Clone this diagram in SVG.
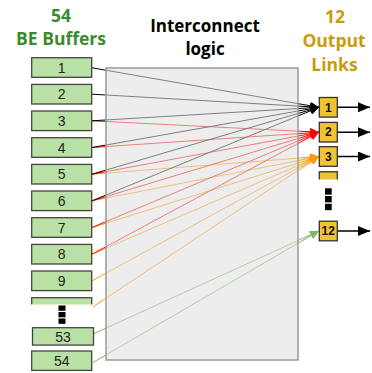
<svg xmlns="http://www.w3.org/2000/svg" width="372" height="373" viewBox="0 0 372 373">
<style>
.title{font-family:"Open Sans","Noto Sans",sans-serif;font-weight:700;font-size:17.5px;text-anchor:middle}
.mid{font-size:17px}
.buf rect{fill:#b9e0a5;stroke:#444;stroke-width:1.3}
.buf text{font-family:"Liberation Sans",Arial,sans-serif;font-size:14px;fill:#222;text-anchor:middle}
.out rect{fill:#f1c232;stroke:#333;stroke-width:1.3}
.out text{font-family:"Liberation Sans",Arial,sans-serif;font-size:12px;font-weight:700;fill:#111;text-anchor:middle}
.c{fill:none;stroke-width:1}
.k{stroke:#000;marker-end:url(#ak)}
.r{stroke:#ff0000;marker-end:url(#ar)}
.o{stroke:#ff9900;marker-end:url(#ao)}
.g{stroke:#82b366;marker-end:url(#ag)}
.ol{stroke:#000;stroke-width:1.5;fill:none;marker-end:url(#aout)}
.dot{fill:#000}
</style>
<defs>
<marker id="ak" viewBox="0 0 9 8" refX="9" refY="4" markerWidth="9" markerHeight="8" markerUnits="userSpaceOnUse" orient="auto"><path d="M0,0 L9,4 L0,8 z" fill="#000"/></marker>
<marker id="ar" viewBox="0 0 9 8" refX="9" refY="4" markerWidth="9" markerHeight="8" markerUnits="userSpaceOnUse" orient="auto"><path d="M0,0 L9,4 L0,8 z" fill="#ff0000"/></marker>
<marker id="ao" viewBox="0 0 9 8" refX="9" refY="4" markerWidth="9" markerHeight="8" markerUnits="userSpaceOnUse" orient="auto"><path d="M0,0 L9,4 L0,8 z" fill="#ff9900"/></marker>
<marker id="ag" viewBox="0 0 9 8" refX="9" refY="4" markerWidth="9" markerHeight="8" markerUnits="userSpaceOnUse" orient="auto"><path d="M0,0 L9,4 L0,8 z" fill="#82b366"/></marker>
<marker id="aout" viewBox="0 0 12 10" refX="12" refY="5" markerWidth="12" markerHeight="10" markerUnits="userSpaceOnUse" orient="auto"><path d="M0,0 L12,5 L0,10 z" fill="#000"/></marker>
</defs>
<rect width="372" height="373" fill="#fff"/>

<g id="titles">
<text class="title" x="61" y="21.5" fill="#3b8a2b">54</text>
<text class="title" x="61" y="45" fill="#3b8a2b">BE Buffers</text>
<text class="title mid" x="205" y="32" fill="#000">Interconnect</text>
<text class="title mid" x="205" y="55" fill="#000">logic</text>
<text class="title" x="335" y="22.5" fill="#c99a0f">12</text>
<text class="title" x="334" y="46.5" fill="#c99a0f">Output</text>
<text class="title" x="334.5" y="71" fill="#c99a0f">Links</text>
</g>

<g id="connectors">
<path class="c o" d="M92,174.2 L319,156.5"/>
<path class="c o" d="M92,200.8 L319,156.5"/>
<path class="c o" d="M92,227.5 L319,156.5"/>
<path class="c o" d="M92,254.2 L319,156.5"/>
<path class="c o" d="M92,280.8 L319,156.5"/>
<path class="c o" d="M92,307.5 L319,156.5"/>
<path class="c r" d="M92,120.8 L319,132.2"/>
<path class="c r" d="M92,147.5 L319,132.2"/>
<path class="c r" d="M92,174.2 L319,132.2"/>
<path class="c r" d="M92,200.8 L319,132.2"/>
<path class="c r" d="M92,227.5 L319,132.2"/>
<path class="c r" d="M92,254.2 L319,132.2"/>
<path class="c k" d="M92,67.8 L319,107.3"/>
<path class="c k" d="M92,94.2 L319,107.3"/>
<path class="c k" d="M92,120.8 L319,107.3"/>
<path class="c k" d="M92,147.5 L319,107.3"/>
<path class="c k" d="M92,174.2 L319,107.3"/>
<path class="c k" d="M92,200.8 L319,107.3"/>
<path class="c g" d="M93,334 L319,231"/>
<path class="c g" d="M93,362.5 L319,231"/>
<path class="ol" d="M337.5,107.3 L370,107.3"/>
<path class="ol" d="M337.5,132.2 L370,132.2"/>
<path class="ol" d="M337.5,156.5 L370,156.5"/>
<path class="ol" d="M337.5,231 L370,231"/>
</g>

<g id="interconnect">
<rect x="106" y="68" width="192" height="292" fill="#e0e0e0" fill-opacity="0.57" stroke="#9a9a9a" stroke-width="1.5"/>
</g>

<g id="buffers">
<g id="buf1" class="buf"><rect x="31.7" y="57.7" width="60" height="19.6"/><text x="61.7" y="72.5">1</text></g>
<g id="buf2" class="buf"><rect x="31.7" y="84.4" width="60" height="19.6"/><text x="61.7" y="99.2">2</text></g>
<g id="buf3" class="buf"><rect x="31.7" y="111" width="60" height="19.6"/><text x="61.7" y="125.8">3</text></g>
<g id="buf4" class="buf"><rect x="31.7" y="137.7" width="60" height="19.6"/><text x="61.7" y="152.5">4</text></g>
<g id="buf5" class="buf"><rect x="31.7" y="164.4" width="60" height="19.6"/><text x="61.7" y="179.2">5</text></g>
<g id="buf6" class="buf"><rect x="31.7" y="191" width="60" height="19.6"/><text x="61.7" y="205.8">6</text></g>
<g id="buf7" class="buf"><rect x="31.7" y="217.7" width="60" height="19.6"/><text x="61.7" y="232.5">7</text></g>
<g id="buf8" class="buf"><rect x="31.7" y="244.4" width="60" height="19.6"/><text x="61.7" y="259.2">8</text></g>
<g id="buf9" class="buf"><rect x="31.7" y="271" width="60" height="19.6"/><text x="61.7" y="285.8">9</text></g>
<g id="buf10" class="buf"><rect x="31.7" y="297.7" width="60" height="19.6"/></g>
<rect x="27" y="304.5" width="66" height="22.8" fill="#fff"/>
<g id="dotsL"><rect class="dot" x="58.5" y="305.5" width="7" height="5.3"/><rect class="dot" x="58.5" y="312" width="7" height="5.3"/><rect class="dot" x="58.5" y="318.5" width="7" height="5.3"/></g>
<g id="buf53" class="buf"><rect x="32.5" y="327.7" width="61" height="17.4"/><text x="63" y="341.5">53</text></g>
<g id="buf54" class="buf"><rect x="31.7" y="351" width="60" height="19.4"/><text x="61.7" y="365.8">54</text></g>
</g>

<g id="outputs">
<g id="out1" class="out"><rect x="319.3" y="97.5" width="18" height="19.6"/><text x="328.3" y="111.5">1</text></g>
<g id="out2" class="out"><rect x="319.3" y="122.4" width="18" height="19.6"/><text x="328.3" y="136.4">2</text></g>
<g id="out3" class="out"><rect x="319.3" y="146.7" width="18" height="19.6"/><text x="328.3" y="160.7">3</text></g>
<g id="out4" class="out"><rect x="319.3" y="171.8" width="18" height="19.6"/></g>
<rect x="316" y="179.5" width="26" height="40" fill="#fff"/>
<g id="dotsR"><rect class="dot" x="325" y="188.3" width="6.7" height="6.4"/><rect class="dot" x="325" y="196" width="6.7" height="6.4"/><rect class="dot" x="325" y="203.8" width="6.7" height="6.4"/></g>
<g id="out12" class="out"><rect x="319.3" y="221.2" width="18" height="19.6"/><text x="328.3" y="235.2">12</text></g>
</g>
</svg>
